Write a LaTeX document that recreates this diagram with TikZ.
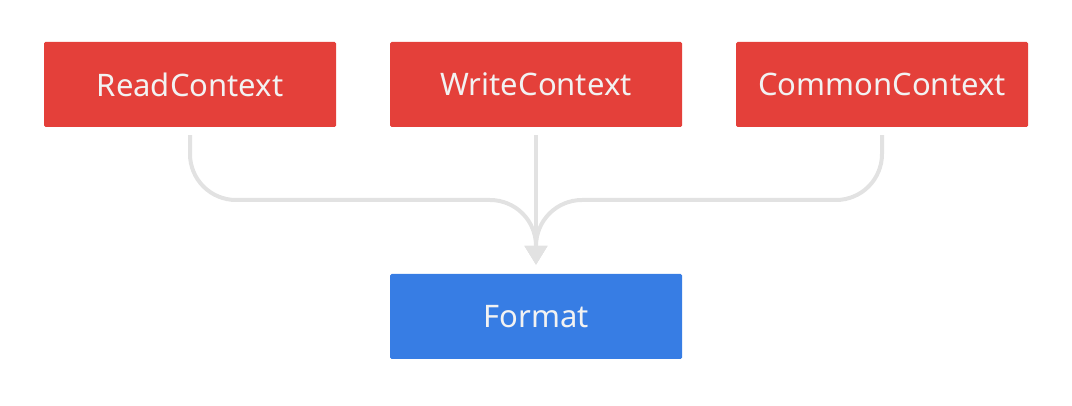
\documentclass[tikz,border=0pt]{standalone}
\usepackage{fontspec}
\setmainfont{Noto Sans}
\usetikzlibrary{arrows.meta}
\definecolor{ctxred}{HTML}{E4403A}
\definecolor{fmtblue}{HTML}{377DE4}
\definecolor{flowgray}{HTML}{E2E2E2}
\definecolor{labelwhite}{HTML}{F2F2F2}
\begin{document}
\begin{tikzpicture}[x=1pt,y=-1pt,
  ctx/.style={shape=rectangle,fill=ctxred,text=labelwhite,minimum width=292pt,minimum height=85pt,inner sep=0pt,rounded corners=1.5pt,font=\fontsize{31}{36}\selectfont},
  fmt/.style={ctx,fill=fmtblue},
  flow/.style={draw=flowgray,line width=4pt,rounded corners=46pt,-{Triangle[width=22pt,length=19pt]}}]
\useasboundingbox (0,0) rectangle (1072,406);
\node[ctx] (read) at (190,84.5) {ReadContext};
\node[ctx] (write) at (536,84.5) {WriteContext};
\node[ctx] (common) at (882,84.5) {CommonContext};
\node[fmt] (format) at (536,316.5) {Format};
\coordinate (merge) at (536,200);

\path [flow] ([yshift=-8pt]read.south) |- (merge) -- ([yshift=9pt]format.north);
\path [flow] ([yshift=-8pt]common.south) |- (merge) -- ([yshift=9pt]format.north);
\path [flow] ([yshift=-8pt]write.south) -- ([yshift=9pt]format.north);
\end{tikzpicture}
\end{document}
